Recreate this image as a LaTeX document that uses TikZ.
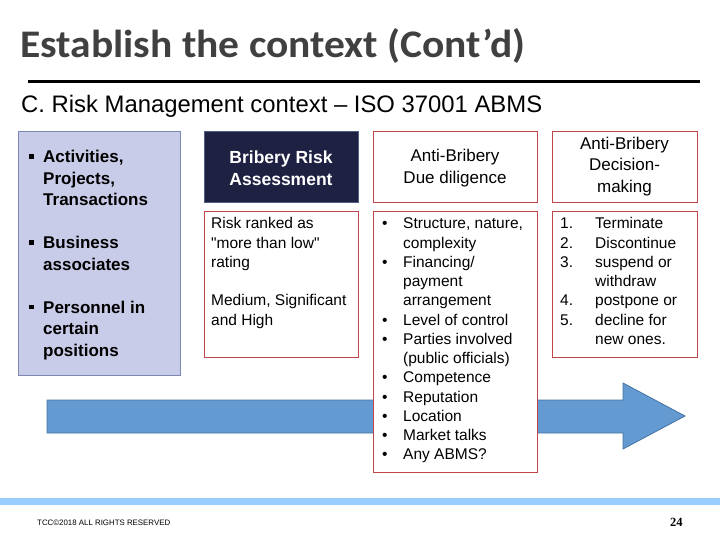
\documentclass[tikz,border=0pt]{standalone}
\usepackage{fontspec}
\setmainfont{Liberation Sans}
\newfontfamily\calibri{Carlito}
\newfontfamily\timesf{Liberation Serif}
\usepackage{graphicx}
\definecolor{titlegray}{RGB}{64,64,64}
\definecolor{lavfill}{RGB}{201,204,232}
\definecolor{lavdraw}{RGB}{125,135,180}
\definecolor{navyfill}{RGB}{31,33,66}
\definecolor{navydraw}{RGB}{80,95,135}
\definecolor{boxred}{RGB}{192,70,75}
\definecolor{arrowfill}{RGB}{98,154,209}
\definecolor{arrowdraw}{RGB}{70,115,160}
\definecolor{barblue}{RGB}{153,204,255}
\newcommand{\sqbul}{\raisebox{4pt}{\rule{4.5pt}{4.5pt}}}
\newcommand{\hitem}[3]{{\hangindent=#1\hangafter=1\noindent\makebox[#1][l]{#2}#3\par}}
\tikzset{
  txt/.style={inner sep=0pt, anchor=base west},
  redbox/.style={draw=boxred, line width=0.9pt, fill=white},
  headtxt/.style={inner sep=0pt, align=center, font=\fontsize{17}{21.5}\selectfont}
}
\begin{document}
\begin{tikzpicture}[x=1pt,y=-1pt]
\useasboundingbox (0,0) rectangle (720,540);
% title
\node[txt, text=titlegray] (title) at (20,58) {\resizebox{505pt}{29pt}{\calibri\bfseries\fontsize{39}{39}\selectfont Establish the context (Cont’d)}};
\draw[line width=3pt] (28,82) -- (700,82);
\node[txt] (sub) at (21,113) {\resizebox{521pt}{!}{\fontsize{21}{21}\selectfont C. Risk Management context – ISO 37001 ABMS}};
% arrow
\draw[fill=arrowfill, draw=arrowdraw, line width=0.8pt] (47,400) -- (623,400) -- (623,383) -- (685,416) -- (623,449) -- (623,433) -- (47,433) -- cycle;
% left box
\draw[fill=lavfill, draw=lavdraw, line width=0.9pt] (18,131) rectangle (180,375);
\node[txt] (left) at (29,163) {\parbox[t]{160pt}{\fontsize{17}{21.5}\selectfont\bfseries
\hitem{14pt}{\sqbul}{Activities,\newline Projects,\newline Transactions}
\vskip21.5pt
\hitem{14pt}{\sqbul}{Business\newline associates}
\vskip21.5pt
\hitem{14pt}{\sqbul}{Personnel in\newline certain\newline positions}}};
% bribery risk assessment
\draw[fill=navyfill, draw=navydraw, line width=0.9pt] (204,131) rectangle (358,202);
\node[headtxt, text=white, font=\fontsize{17.5}{21.5}\selectfont\bfseries] (bra) at (281,168) {Bribery Risk\\Assessment};
\draw[redbox] (204,211) rectangle (358,357);
\node[txt] (rank) at (211,229) {\parbox[t]{150pt}{\fontsize{15.5}{19.25}\selectfont
Risk ranked as\newline \textquotedbl more than low\textquotedbl\newline rating\par\vskip19.25pt Medium, Significant\newline and High}};
% due diligence
\draw[redbox] (373,131) rectangle (537,202);
\node[headtxt] (dd) at (455,168) {Anti-Bribery\\Due diligence};
\draw[redbox] (373,211) rectangle (537,472);
\node[txt] (ddl) at (382,229) {\parbox[t]{160pt}{\fontsize{15.5}{19.25}\selectfont
\hitem{21pt}{•}{Structure, nature,\newline complexity}
\hitem{21pt}{•}{Financing/\newline payment\newline arrangement}
\hitem{21pt}{•}{Level of control}
\hitem{21pt}{•}{Parties involved\newline (public officials)}
\hitem{21pt}{•}{Competence}
\hitem{21pt}{•}{Reputation}
\hitem{21pt}{•}{Location}
\hitem{21pt}{•}{Market talks}
\hitem{21pt}{•}{Any ABMS?}}};
% decision making
\draw[redbox] (552,131) rectangle (697,202);
\node[headtxt] (dm) at (624.5,166.5) {Anti-Bribery\\Decision-\\making};
\draw[redbox] (552,211) rectangle (697,357);
\node[txt] (dml) at (560,229) {\parbox[t]{150pt}{\fontsize{15.5}{19.25}\selectfont
\hitem{35pt}{1.}{Terminate}
\hitem{35pt}{2.}{Discontinue}
\hitem{35pt}{3.}{suspend or\newline withdraw}
\hitem{35pt}{4.}{postpone or}
\hitem{35pt}{5.}{decline for\newline new ones.}}};
% footer
\fill[barblue] (0,498) rectangle (720,505);
\node[txt] (foot) at (37,525) {\resizebox{133pt}{!}{\fontsize{7}{7}\selectfont TCC©2018 ALL RIGHTS RESERVED}};
\node[txt] (pg) at (670,526) {\timesf\bfseries\fontsize{12.5}{12.5}\selectfont 24};
\end{tikzpicture}
\end{document}
